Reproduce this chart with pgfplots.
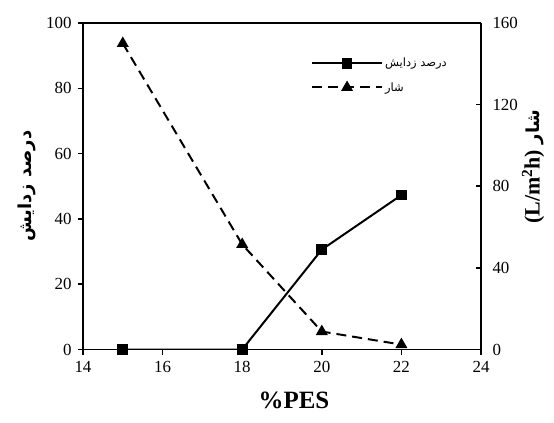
\documentclass[border=0pt]{standalone}
\usepackage{fontspec}
\setmainfont{Liberation Serif}
\newfontfamily\arabicfont[Script=Arabic]{DejaVu Sans}
\usepackage{pgfplots}
\pgfplotsset{compat=1.18}
\TeXXeTstate=1
\begin{document}
\begin{tikzpicture}
\pgfplotsset{
  every axis/.append style={
    width=398bp, height=326.5bp, scale only axis,
    xmin=14, xmax=24, xtick={14,16,...,24},
    axis line style={line width=2pt},
    tick style={line width=1.6pt, black},
    major tick length=5bp,
    tick align=outside,
    ticklabel style={font=\fontsize{17}{19}\selectfont},
    xticklabel style={yshift=-3bp},
    /pgf/number format/assume math mode=true,
  },
}
\begin{axis}[
  ymin=0, ymax=100, ytick={0,20,...,100},
  axis y line*=left, axis x line*=box,
  xtick pos=bottom,
  yticklabel style={xshift=-3bp},
  xlabel={\fontsize{25}{27}\selectfont\bfseries \%PES},
  xlabel style={at={(axis description cs:0.53,-0.18)}, anchor=base},
  ylabel={\fontsize{18}{20}\selectfont\arabicfont\bfseries\beginR درصد زدایش\endR},
  ylabel style={at={(axis description cs:-0.141,0.5)}, anchor=center},
]
\addplot[black, line width=2pt, mark=square*, mark size=4.4pt, mark options={solid}]
  coordinates {(15,0) (18,0) (20,30.6) (22,47.3)};
\end{axis}
\begin{axis}[
  ymin=0, ymax=160, ytick={0,40,...,160},
  axis y line*=right, axis x line=none,
  ytick align=inside, 
  yticklabel style={xshift=8bp},
  ylabel={\fontsize{22}{24}\selectfont\bfseries \beginL(L/m\textsuperscript{2}h)\endL{} {\fontsize{18}{20}\selectfont\arabicfont\beginR شار\endR}},
  ylabel style={at={(axis description cs:1.131,0.56)}, anchor=center, rotate=0},
  legend style={draw=none, fill=none, at={(0.565,0.905)}, anchor=north west,
    font=\fontsize{11.5}{13}\selectfont\arabicfont, row sep=10bp,
    legend cell align=left},
  legend image code/.code={\draw[mark repeat=2,mark phase=2,#1]
     plot coordinates {(0bp,0bp) (35bp,0bp) (70bp,0bp)};},
]
\addlegendimage{black, line width=2pt, mark=square*, mark size=4.4pt, mark options={solid}}
\addlegendentry{\beginR درصد زدایش\endR}
\addplot[black, line width=2pt, dash pattern=on 10pt off 6pt, mark=triangle*, mark size=5pt, mark options={solid}]
  coordinates {(15,150) (18,51.5) (20,8.8) (22,2.4)};
\addlegendentry{\beginR شار\endR}
\end{axis}
\path (current axis.south west) ++(-83bp,-73.5bp) coordinate (bl);
\path (current axis.north east) ++(73bp,23bp) coordinate (tr);
\useasboundingbox (bl) rectangle (tr);
\end{tikzpicture}
\end{document}
